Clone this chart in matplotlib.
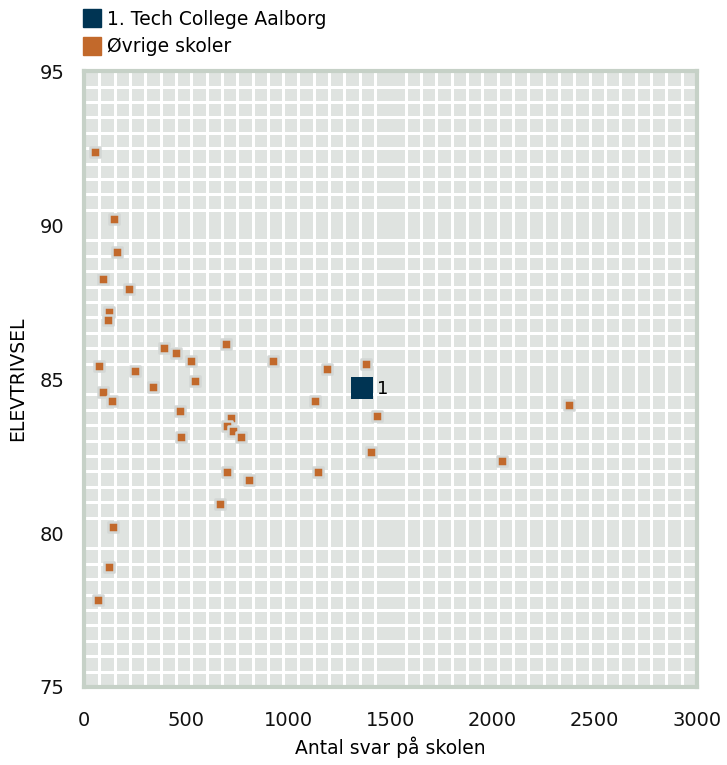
import numpy as np
import matplotlib.pyplot as plt
from matplotlib.lines import Line2D

# other schools
antal = [54, 147, 161, 93, 220, 122, 117, 392, 450, 695, 524, 925, 73, 250,
         1189, 1380, 543, 338, 93, 137, 1130, 2373, 470, 1434, 719, 700, 729,
         768, 475, 1405, 2046, 700, 1145, 808, 666, 142, 122, 68]
trivsel = [92.37, 90.19, 89.12, 88.25, 87.92, 87.18, 86.92, 86.0, 85.84, 86.14,
           85.58, 85.58, 85.42, 85.26, 85.32, 85.49, 84.94, 84.74, 84.58, 84.29,
           84.29, 84.16, 83.96, 83.80, 83.73, 83.47, 83.31, 83.12, 83.12, 82.63,
           82.34, 81.98, 81.98, 81.72, 80.94, 80.19, 78.90, 77.82]

# highlighted school
hl_name = "1. Tech College Aalborg"
hl_label = "1"
hl_antal = 1360
hl_trivsel = 84.71

xticks = [0, 500, 1000, 1500, 2000, 2500, 3000]
yticks = [75, 80, 85, 90, 95]

orange = "#c2692b"
navy = "#003453"
frame = "#c6d1c7"

fig = plt.figure(figsize=(7.27, 7.65), dpi=100)
ax = fig.add_axes([0.1155, 0.102, 0.843, 0.805])
ax.set_facecolor("#dfe3e0")

ax.set_xlim(0, 3000)
ax.set_ylim(75, 95)
ax.set_xticks(xticks)
ax.set_yticks(yticks)
ax.set_xticks(np.arange(0, 3001, 75), minor=True)
ax.set_yticks(np.arange(75, 95.01, 0.5), minor=True)
ax.grid(which="minor", color="white", linewidth=2.2)
ax.grid(which="major", visible=False)
ax.set_axisbelow(True)
ax.tick_params(which="both", length=0, labelsize=14, colors="#111111")
ax.tick_params(axis="x", pad=17)
ax.tick_params(axis="y", pad=14)

for sp in ax.spines.values():
    sp.set_color(frame)
    sp.set_linewidth(3)

ax.scatter(antal, trivsel, marker="s", s=50, c=orange,
           edgecolors="#d3d7d5", linewidths=1.8, zorder=3)
ax.scatter([hl_antal], [hl_trivsel], marker="s", s=230, c=navy,
           linewidths=0, zorder=4)
ax.annotate(hl_label, (hl_antal, hl_trivsel), xytext=(11, -1),
            textcoords="offset points", va="center", ha="left", fontsize=13)

ax.set_xlabel("Antal svar på skolen", fontsize=13.5, labelpad=5)
ax.set_ylabel("ELEVTRIVSEL", fontsize=13.5, labelpad=9)

handles = [Line2D([], [], marker="s", color=navy, linestyle="none", markersize=12.5),
           Line2D([], [], marker="s", color=orange, linestyle="none", markersize=12.5)]
fig.legend(handles, [hl_name, "Øvrige skoler"], loc="upper left",
           bbox_to_anchor=(0.088, 1.009), frameon=False, fontsize=13.5,
           handletextpad=0.2, labelspacing=0.45, handlelength=1.2)

fig.savefig("out.png", dpi=100)
